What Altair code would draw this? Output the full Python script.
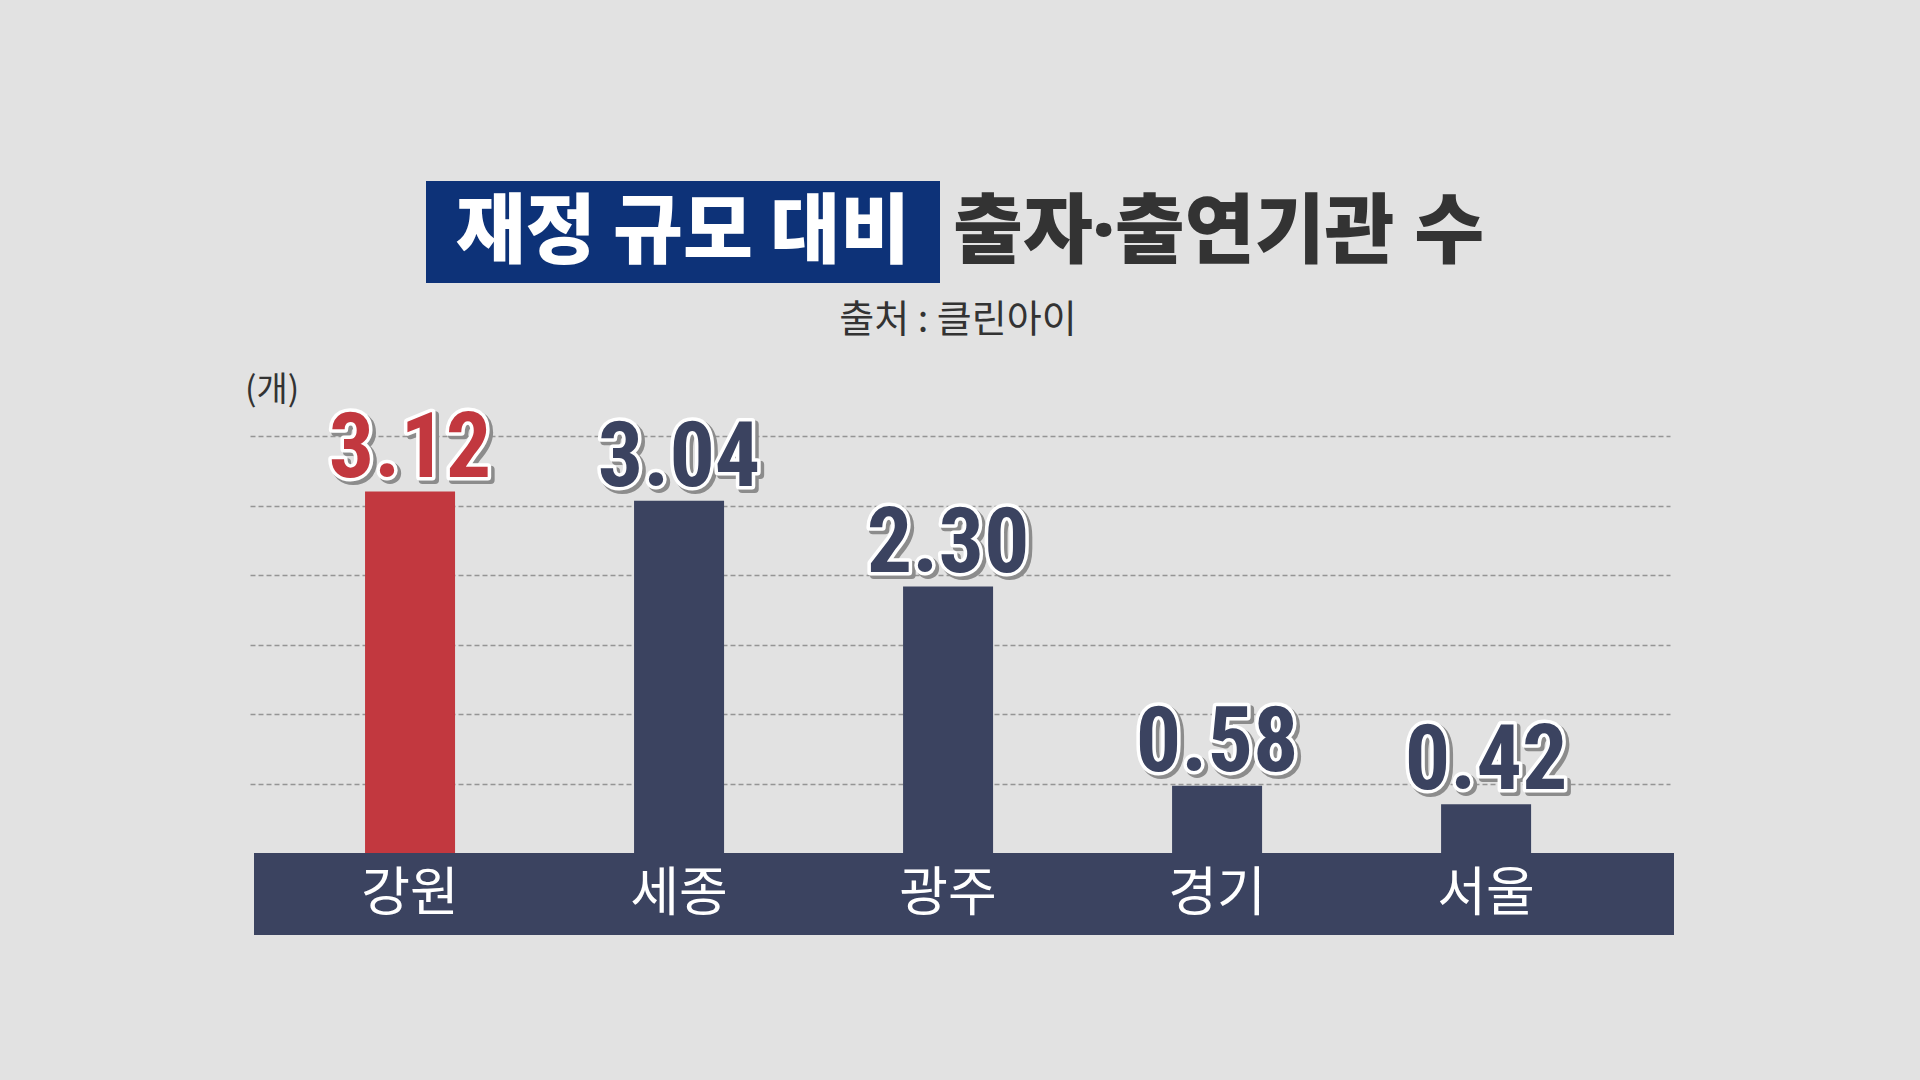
import altair as alt
import pandas as pd

# ---- data ----
regions = ["강원", "세종", "광주", "경기", "서울"]
values = [3.12, 3.04, 2.30, 0.58, 0.42]
grid_values = [0.6, 1.2, 1.8, 2.4, 3.0, 3.6]
highlight = "강원"

title_box_text = "재정 규모 대비"
title_rest_text = "출자·출연기관 수"
source_text = "출처 : 클린아이"
unit_text = "(개)"

df = pd.DataFrame({"region": regions, "value": values})

# ---- style ----
W, H = 1420, 417
BG = "#e2e2e2"
RED = "#c2383f"
NAVY = "#3b4360"
TITLE_BLUE = "#0d3278"
DARK = "#333333"
KFONT = "Noto Sans CJK KR"
NFONT = "Liberation Sans Narrow, Roboto Condensed, Liberation Sans, sans-serif"

x = alt.X(
    "region:N",
    sort=regions,
    scale=alt.Scale(paddingInner=0.6654, paddingOuter=0.472, align=0.453),
    axis=alt.Axis(
        title=None, labelAngle=0, labelColor="white", labelFont=KFONT,
        labelFontSize=53, labelFontWeight="normal", labelPadding=41,
        labelBaseline="middle", ticks=False, tickSize=0, domain=False,
        zindex=2,
    ),
)
y = alt.Y(
    "value:Q",
    scale=alt.Scale(domain=[0, 3.6], nice=False, zero=True),
    axis=alt.Axis(
        title=None, labels=False, ticks=False, domain=False,
        values=grid_values, grid=True, gridColor="#959595",
        gridDash=[5, 3], gridWidth=1.5,
    ),
)

base = alt.Chart(df)

one = alt.Data(values=[{}])

band = alt.Chart(one).mark_rect(color=NAVY).encode(
    x=alt.value(4), x2=alt.value(W + 4), y=alt.value(H), y2=alt.value(H + 82)
)

bars = base.mark_bar().encode(
    x=x, y=y,
    color=alt.condition(alt.datum.region == highlight, alt.value(RED), alt.value(NAVY)),
)

txt_kw = dict(font=NFONT, fontSize=90, fontWeight="bold", baseline="alphabetic",
              align="center")

shadow = base.mark_text(dx=3, dy=-12, stroke="#8c8c8c", strokeWidth=8,
                        fill="#8c8c8c", strokeJoin="round", **txt_kw).encode(
    x=x, y=y, text=alt.Text("value:Q", format=".2f"))
outline = base.mark_text(dy=-15, stroke="white", strokeWidth=7, fill="white",
                         strokeJoin="round", **txt_kw).encode(
    x=x, y=y, text=alt.Text("value:Q", format=".2f"))
label = base.mark_text(dy=-15, **txt_kw).encode(
    x=x, y=y, text=alt.Text("value:Q", format=".2f"),
    color=alt.condition(alt.datum.region == highlight, alt.value(RED), alt.value(NAVY)),
)

title_box = alt.Chart(one).mark_rect(color=TITLE_BLUE).encode(
    x=alt.value(176), x2=alt.value(690), y=alt.value(-255), y2=alt.value(-153)
)
title1 = alt.Chart(one).mark_text(
    text=title_box_text, font=KFONT, fontSize=76, fontWeight=900, color="white",
    align="center", baseline="middle"
).encode(x=alt.value(433), y=alt.value(-202))
title2 = alt.Chart(one).mark_text(
    text=title_rest_text, font="Noto Sans, " + KFONT, fontSize=76, fontWeight=900,
    color=DARK, align="left", baseline="middle"
).encode(x=alt.value(703), y=alt.value(-202))
subtitle = alt.Chart(one).mark_text(
    text=source_text, font=KFONT, fontSize=38, fontWeight="normal", color=DARK,
    align="center", baseline="middle"
).encode(x=alt.value(708), y=alt.value(-115))
unit = alt.Chart(one).mark_text(
    text=unit_text, font=KFONT, fontSize=34, fontWeight="normal", color=DARK,
    align="left", baseline="middle"
).encode(x=alt.value(-5), y=alt.value(-45))

chart = alt.layer(
    band, bars, shadow, outline, label, title_box, title1, title2, subtitle, unit
).properties(
    width=W, height=H,
    autosize=alt.AutoSizeParams(type="none"),
    padding={"left": 250, "top": 436, "right": 250, "bottom": 227},
    background=BG,
).configure_view(stroke=None)

chart.save("out.html", embed_options={"renderer": "svg", "actions": False})
